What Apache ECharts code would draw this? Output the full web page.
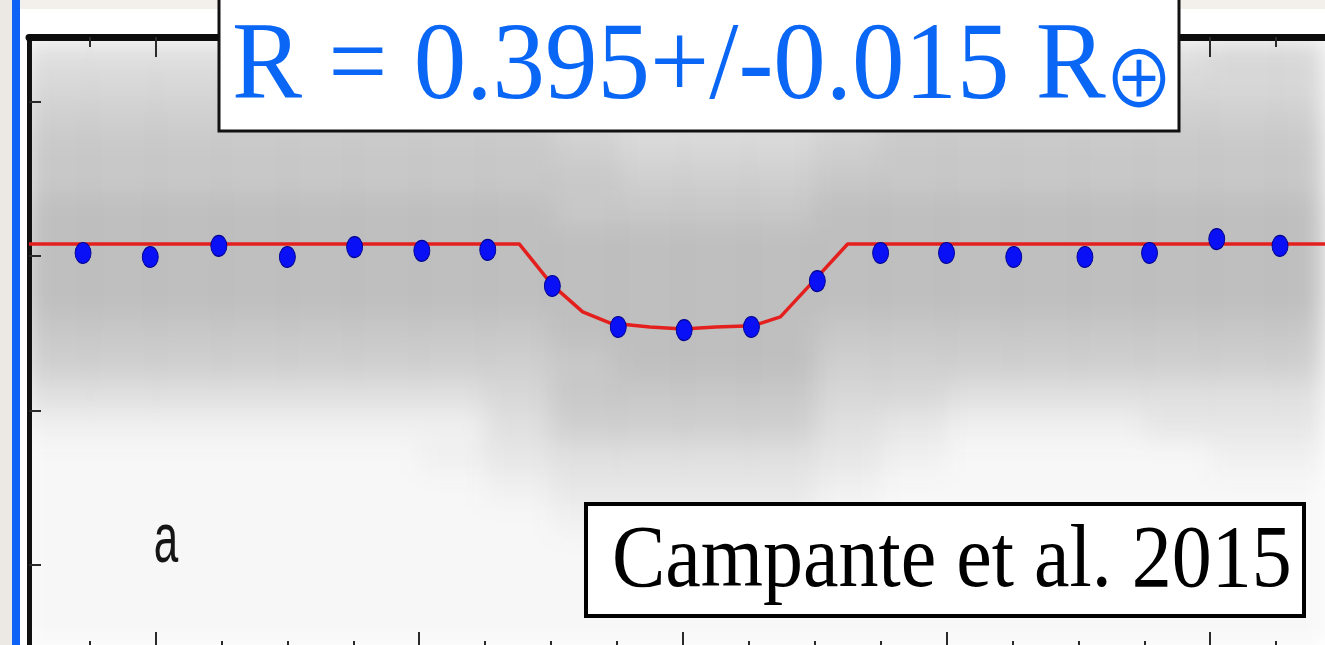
<!DOCTYPE html>
<html>
<head>
<meta charset="utf-8">
<style>
  html, body { margin: 0; padding: 0; background: #ffffff; }
  #stage { position: relative; width: 1325px; height: 645px; overflow: hidden; }
  #hazeClip { position: absolute; left: 29px; top: 37px; width: 1296px; height: 608px; overflow: hidden; }
  #haze { position: absolute; left: -29px; top: -37px; width: 1325px; height: 645px; filter: blur(12px); }
  #chart { position: absolute; left: 0; top: 0; width: 1325px; height: 645px; }
</style>
<script src="https://cdn.jsdelivr.net/npm/echarts@6.0.0/dist/echarts.min.js"></script>
</head>
<body>
<div id="stage">
  <div id="hazeClip"><div id="haze"></div></div>
  <div id="chart"></div>
</div>
<script>
// Binned photometry (time from mid-transit in hours, relative flux in ppm)
const binHours = [-4.55, -4.04, -3.52, -3.0, -2.49, -1.98, -1.48, -0.99, -0.49, 0.01, 0.52, 1.02, 1.5, 2.0, 2.51, 3.05, 3.54, 4.05, 4.53];
const binFlux  = [1.0, -0.3, 3.3, -0.3, 2.9, 1.7, 2.0, -9.7, -23.0, -24.0, -23.0, -8.1, 1.0, 1.0, -0.3, -0.3, 1.0, 5.5, 3.3];

// Best-fitting transit model
const modelHours = [-4.96, -1.24, -0.99, -0.76, -0.55, -0.25, 0.0, 0.25, 0.53, 0.74, 1.0, 1.25, 5.0];
const modelFlux  = [3.9, 3.9, -9.4, -18.1, -21.7, -23.0, -23.6, -23.0, -22.6, -19.7, -7.7, 3.9, 3.9];

// Point density of the unbinned short-cadence data (0 = empty, 9 = densest)
const hazeColumns = [-4.75, -4.25, -3.75, -3.25, -2.75, -2.25, -1.75, -1.25, -0.75, -0.25, 0.25, 0.75, 1.25, 1.75, 2.25, 2.75, 3.25, 3.75, 4.25, 4.75];
const hazeRows = [65, 55, 45, 35, 25, 15, 5, -5, -15, -25, -35, -45, -55, -65, -75, -85, -95, -105, -115, -125];
const hazeDensity = [
  '44444444322234444455',
  '55555555433345555555',
  '66666666544456666666',
  '77777777655567777777',
  '77777777766677777777',
  '88888888777788888888',
  '88888888888888888888',
  '88888888888888888888',
  '88888888888888888888',
  '77777777888877777777',
  '66666666788866666666',
  '44444445777755444444',
  '22222224666643222333',
  '11111123444432111122',
  '11111112333321111111',
  '11111111222211111111',
  '11111111111111111111',
  '11111111111111111111',
  '11111111111111111111',
  '11111111111111111111'
];

// Tick positions
const majorTicksX = [-4, -2, 0, 2, 4];
const minorTicksX = [-4.5, -3.5, -3, -2.5, -1.5, -1, -0.5, 0.5, 1, 1.5, 2.5, 3, 3.5, 4.5];
const ticksY = [-100, -50, 0, 50];

const titleText = 'R = 0.395+/-0.015 R';
const earthSymbol = '\u2295';
const creditText = 'Campante et al. 2015';
const panelLabel = 'a';

const BLUE_TEXT = '#0a66f5';

// ---- density haze layer ----
const hazeData = [];
hazeDensity.forEach(function (row, r) {
  for (let c = 0; c < row.length; c++) hazeData.push([c, r, Number(row[c])]);
});
const haze = echarts.init(document.getElementById('haze'));
haze.setOption({
  animation: false,
  grid: { left: 24, top: 40, width: 1318, height: 617, outerBoundsMode: 'none' },
  xAxis: { type: 'category', data: hazeColumns, show: false },
  yAxis: { type: 'category', data: hazeRows, inverse: true, show: false },
  visualMap: {
    show: false, min: 0, max: 9, dimension: 2,
    inRange: { color: ['rgba(60,60,60,0)', 'rgba(60,60,60,0.36)'] }
  },
  series: [{ type: 'heatmap', data: hazeData, itemStyle: { borderWidth: 0 } }]
});

// ---- main chart ----
const tickStyle = { color: '#2a2a2a', width: 2 };
function xAxisDef(position, ticks, len, showLine) {
  return {
    type: 'value', min: -4.96, max: 5.0, position: position,
    axisLine: { show: showLine, onZero: false, lineStyle: { color: '#0c0c0c', width: 7 } },
    axisTick: { show: true, inside: true, length: len, customValues: ticks, lineStyle: tickStyle },
    axisLabel: { show: false },
    splitLine: { show: false }
  };
}

const chart = echarts.init(document.getElementById('chart'));
chart.setOption({
  animation: false,
  backgroundColor: 'transparent',
  grid: { left: 29, top: 37, width: 1313, height: 614, outerBoundsMode: 'none' },
  xAxis: [
    xAxisDef('bottom', majorTicksX, 19, false),
    xAxisDef('bottom', minorTicksX, 10, false),
    xAxisDef('top', majorTicksX, 20, true),
    xAxisDef('top', minorTicksX, 10, false)
  ],
  yAxis: [{
    type: 'value', min: -128, max: 71, position: 'left',
    axisLine: { show: true, onZero: false, lineStyle: { color: '#111111', width: 5 } },
    axisTick: { show: true, inside: true, length: 12, customValues: ticksY, lineStyle: tickStyle },
    axisLabel: { show: false },
    splitLine: { show: false }
  }],
  series: [
    {
      type: 'line', name: 'model',
      data: modelHours.map(function (h, i) { return [h, modelFlux[i]]; }),
      symbol: 'none', showSymbol: false,
      lineStyle: { color: '#e4201f', width: 3.5 },
      z: 3
    },
    {
      type: 'scatter', name: 'binned',
      data: binHours.map(function (h, i) { return [h, binFlux[i]]; }),
      symbol: 'circle', symbolSize: [16, 21],
      itemStyle: { color: '#0a10f5', borderColor: '#000090', borderWidth: 1, opacity: 1 },
      z: 4
    }
  ],
  graphic: [
    { type: 'rect', shape: { x: 0, y: 0, width: 12, height: 645 }, style: { fill: '#ece8e4' }, z: 50 },
    { type: 'rect', shape: { x: 12, y: 0, width: 8, height: 645 }, style: { fill: '#0f62f6' }, z: 50 },
    { type: 'rect', shape: { x: 20, y: 0, width: 1305, height: 9 }, style: { fill: '#f3f0ec' }, z: 50 },
    { type: 'rect', shape: { x: 219, y: -4, width: 960, height: 135 }, style: { fill: '#ffffff', stroke: '#111111', lineWidth: 3 }, z: 100 },
    {
      type: 'text', x: 232, y: 69, scaleY: 1.04, z: 101,
      style: { text: titleText, font: '105px "Liberation Serif"', fill: BLUE_TEXT, align: 'left', textAlign: 'left', verticalAlign: 'middle', textVerticalAlign: 'middle' }
    },
    {
      type: 'text', x: 1139, y: 78, scaleY: 1.1, z: 101,
      style: { text: earthSymbol, font: '71px "Noto Sans CJK JP"', fill: BLUE_TEXT, align: 'center', textAlign: 'center', verticalAlign: 'middle', textVerticalAlign: 'middle' }
    },
    { type: 'rect', shape: { x: 586, y: 504, width: 718, height: 112 }, style: { fill: '#ffffff', stroke: '#000000', lineWidth: 4 }, z: 100 },
    {
      type: 'text', x: 612, y: 562, scaleY: 1.12, z: 101,
      style: { text: creditText, font: '80px "Liberation Serif"', fill: '#000000', align: 'left', textAlign: 'left', verticalAlign: 'middle', textVerticalAlign: 'middle' }
    },
    {
      type: 'text', x: 166, y: 543, scaleY: 1.6, z: 101,
      style: { text: panelLabel, font: '44px "Liberation Sans"', fill: '#151515', align: 'center', textAlign: 'center', verticalAlign: 'middle', textVerticalAlign: 'middle' }
    }
  ]
});
</script>
</body>
</html>
